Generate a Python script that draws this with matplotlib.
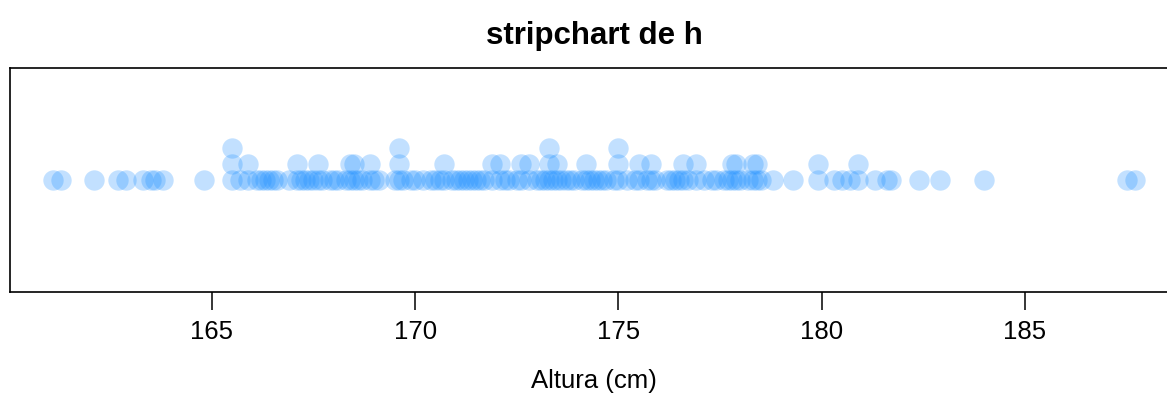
from collections import Counter
import matplotlib.pyplot as plt

# alturas (cm), redondeadas a 0.1; los valores repetidos se apilan
h = [161.1, 161.3, 162.1, 162.7, 162.9, 163.3, 163.5, 163.6, 163.8, 164.8,
     165.5, 165.5, 165.5, 165.7, 165.9, 165.9, 166.1, 166.2, 166.3, 166.4,
     166.5, 166.6, 166.9, 167.1, 167.1, 167.2, 167.3, 167.4, 167.5, 167.6,
     167.6, 167.7, 167.9, 168.0, 168.1, 168.3, 168.4, 168.4, 168.5, 168.5,
     168.6, 168.7, 168.9, 168.9, 169.0, 169.1, 169.5, 169.6, 169.6, 169.6,
     169.7, 169.9, 170.0, 170.2, 170.4, 170.5, 170.6, 170.7, 170.7, 170.9,
     171.0, 171.1, 171.2, 171.3, 171.4, 171.5, 171.6, 171.7, 171.9, 171.9,
     172.1, 172.1, 172.2, 172.3, 172.5, 172.6, 172.6, 172.8, 172.8, 173.0,
     173.1, 173.2, 173.3, 173.3, 173.3, 173.4, 173.5, 173.5, 173.6, 173.7,
     173.8, 173.9, 174.1, 174.2, 174.2, 174.3, 174.4, 174.5, 174.6, 174.7,
     174.9, 175.0, 175.0, 175.0, 175.2, 175.4, 175.5, 175.5, 175.7, 175.8,
     175.8, 175.9, 176.2, 176.3, 176.4, 176.5, 176.6, 176.6, 176.7, 176.9,
     176.9, 177.1, 177.3, 177.4, 177.6, 177.7, 177.8, 177.8, 177.9, 177.9,
     178.0, 178.2, 178.3, 178.3, 178.4, 178.4, 178.5, 178.8, 179.3, 179.9,
     179.9, 180.3, 180.5, 180.7, 180.9, 180.9, 181.3, 181.6, 181.7, 182.4,
     182.9, 184.0, 187.5, 187.7]
ticks = [165, 170, 175, 180, 185]

base, step = 0.5, 0.0714
xs, ys = [], []
for v, n in sorted(Counter(h).items()):
    for i in range(n):
        xs.append(v)
        ys.append(base + i * step)

plt.rcParams['font.family'] = ['Liberation Sans', 'DejaVu Sans']
fig = plt.figure(figsize=(11.67, 3.94), dpi=100)
ax = fig.add_axes([10 / 1167, 102 / 394, 1168 / 1167, 224 / 394])

ax.scatter(xs, ys, s=215, color=(30 / 255, 144 / 255, 1.0), alpha=0.27,
           linewidths=0)

lo, hi = min(h), max(h)
pad = 0.04 * (hi - lo)
ax.set_xlim(lo - pad, hi + pad)
ax.set_ylim(0, 1)
ax.set_yticks([])
ax.set_xticks(ticks)
ax.tick_params(axis='x', direction='out', length=13, width=1.1,
               labelsize=18.5, pad=7, color='black')
for s in ax.spines.values():
    s.set_linewidth(1.2)
    s.set_color('black')

ax.set_xlabel('Altura (cm)', fontsize=18.5, labelpad=18.5)
ax.set_title('stripchart de h', fontsize=22.5, fontweight='bold', pad=17)

fig.savefig('out.png', dpi=100)
